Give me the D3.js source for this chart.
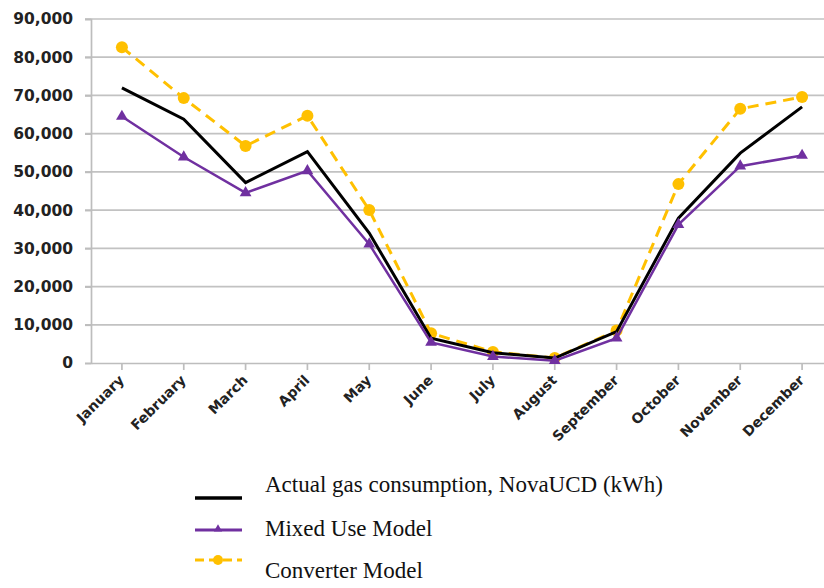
<!DOCTYPE html>
<html>
<head>
<meta charset="utf-8">
<script src="https://cdn.jsdelivr.net/npm/d3@7"></script>
<style>
  body { margin: 0; background: #fff; }
  svg { display: block; }
</style>
</head>
<body>
<svg id="chart"></svg>
<script>
const months = ['January', 'February', 'March', 'April', 'May', 'June', 'July',
  'August', 'September', 'October', 'November', 'December'];
const actual = [72000, 63800, 47200, 55300, 34000, 6500, 2700, 1300, 8200, 37900, 54900, 67000];
const mixedUse = [64500, 53900, 44500, 50300, 31100, 5400, 1700, 600, 6500, 36200, 51500, 54300];
const converter = [82600, 69300, 56800, 64700, 40000, 7800, 2900, 1300, 8500, 46800, 66500, 69600];
const yTicks = [0, 10000, 20000, 30000, 40000, 50000, 60000, 70000, 80000, 90000];
const legendLabels = ['Actual gas consumption, NovaUCD (kWh)', 'Mixed Use Model', 'Converter Model'];

const w = 824, h = 588;
const svg = d3.select('#chart').attr('width', w).attr('height', h);

const x = d3.scaleBand().domain(months).range([91, 833]);
const y = d3.scaleLinear().domain([0, 90000]).range([363, 19]);
const cx = m => x(m) + x.bandwidth() / 2;

// gridlines
svg.append('g')
  .selectAll('line')
  .data(yTicks.slice(1))
  .join('line')
  .attr('x1', 85).attr('x2', 833)
  .attr('y1', d => y(d)).attr('y2', d => y(d))
  .attr('stroke', '#c2c2c2').attr('stroke-width', 1.7);

// y axis
const yAxis = svg.append('g')
  .attr('transform', 'translate(91,0)')
  .call(d3.axisLeft(y).tickValues(yTicks).tickSize(6).tickPadding(12).tickFormat(d3.format(',')));
yAxis.select('.domain').attr('stroke', '#bdbdbd').attr('stroke-width', 1.7);
yAxis.selectAll('.tick line').attr('stroke', '#bdbdbd').attr('stroke-width', 1.7);
yAxis.selectAll('text')
  .attr('fill', '#222')
  .style('font-family', '"DejaVu Sans", sans-serif')
  .style('font-weight', 'bold')
  .style('font-size', '15.5px');

// x axis
const xAxis = svg.append('g')
  .attr('transform', 'translate(0,363)')
  .call(d3.axisBottom(x).tickSize(7).tickSizeOuter(0).tickPadding(4));
xAxis.select('.domain').attr('stroke', '#bdbdbd').attr('stroke-width', 1.7);
xAxis.selectAll('.tick line').attr('stroke', '#bdbdbd').attr('stroke-width', 1.7);
xAxis.selectAll('text')
  .attr('fill', '#222')
  .style('font-family', '"DejaVu Sans", sans-serif')
  .style('font-weight', 'bold')
  .style('font-size', '14px')
  .attr('text-anchor', 'end')
  .attr('dy', null)
  .attr('y', 0)
  .attr('transform', 'translate(3,18) rotate(-45)');

const line = d3.line().x((d, i) => cx(months[i])).y(d => y(d));

// converter (dashed orange)
svg.append('path').datum(converter)
  .attr('d', line).attr('fill', 'none')
  .attr('stroke', '#FFC000').attr('stroke-width', 3)
  .attr('stroke-dasharray', '11,7');
svg.append('g').selectAll('circle')
  .data(converter).join('circle')
  .attr('cx', (d, i) => cx(months[i])).attr('cy', d => y(d))
  .attr('r', 6).attr('fill', '#FFC000');

// actual (black)
svg.append('path').datum(actual)
  .attr('d', line).attr('fill', 'none')
  .attr('stroke', '#000').attr('stroke-width', 3);

// mixed use (purple with triangles)
svg.append('path').datum(mixedUse)
  .attr('d', line).attr('fill', 'none')
  .attr('stroke', '#7030A0').attr('stroke-width', 2.5);
const tri = d3.symbol().type(d3.symbolTriangle).size(60);
svg.append('g').selectAll('path')
  .data(mixedUse).join('path')
  .attr('d', tri)
  .attr('transform', (d, i) => `translate(${cx(months[i])},${y(d)})`)
  .attr('fill', '#7030A0');

// legend
const legend = svg.append('g');
legend.append('line').attr('x1', 195).attr('x2', 242).attr('y1', 498).attr('y2', 498)
  .attr('stroke', '#000').attr('stroke-width', 3.5);
legend.append('line').attr('x1', 195).attr('x2', 242).attr('y1', 530).attr('y2', 530)
  .attr('stroke', '#7030A0').attr('stroke-width', 3);
legend.append('path').attr('d', d3.symbol().type(d3.symbolTriangle).size(30))
  .attr('transform', 'translate(218,529)').attr('fill', '#7030A0');
legend.append('line').attr('x1', 195).attr('x2', 242).attr('y1', 560).attr('y2', 560)
  .attr('stroke', '#FFC000').attr('stroke-width', 3).attr('stroke-dasharray', '9,5');
legend.append('circle').attr('cx', 218).attr('cy', 560).attr('r', 5).attr('fill', '#FFC000');

legend.selectAll('text')
  .data(legendLabels).join('text')
  .attr('x', 265)
  .attr('y', (d, i) => [492, 536, 578][i])
  .text(d => d)
  .attr('fill', '#111')
  .style('font-family', '"Liberation Serif", "Times New Roman", serif')
  .style('font-size', '23px');
</script>
</body>
</html>
